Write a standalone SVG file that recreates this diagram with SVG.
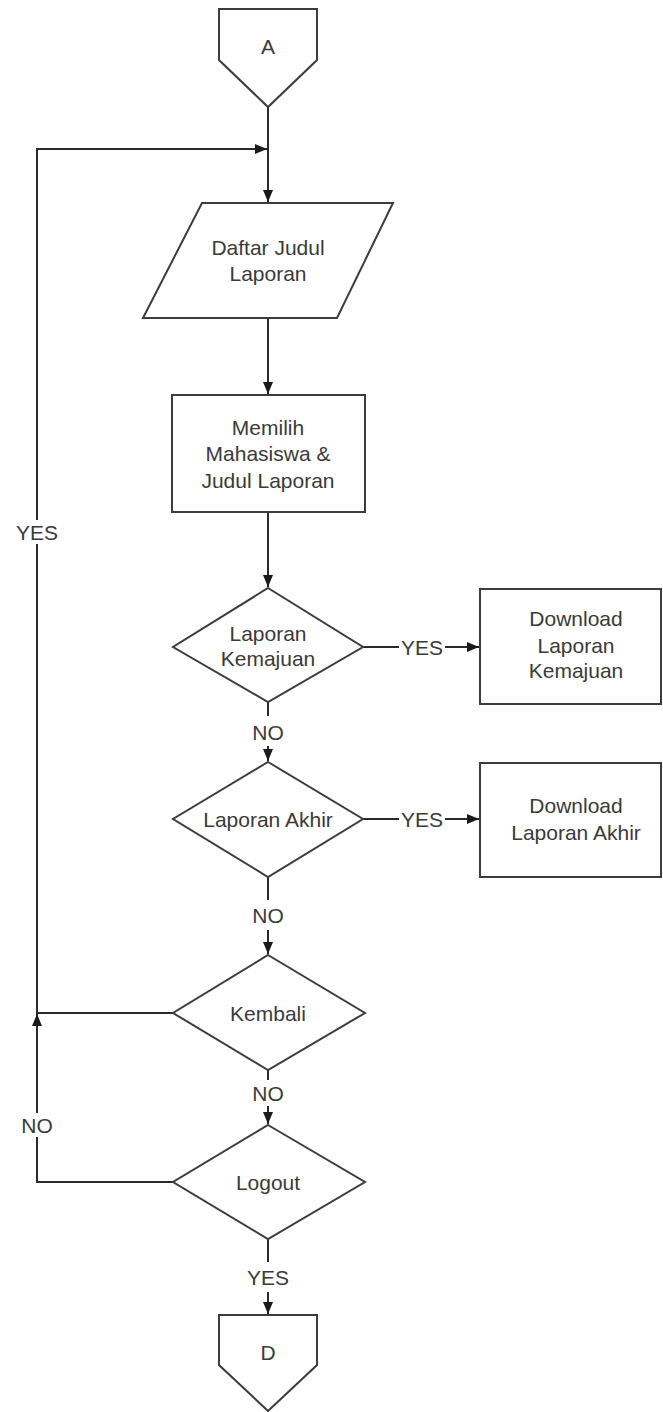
<svg xmlns="http://www.w3.org/2000/svg" width="663" height="1412" viewBox="0 0 663 1412">
<style>
.s{fill:#fff;stroke:#3c3c3c;stroke-width:2}
.c{fill:none;stroke:#2a2a2a;stroke-width:2}
.t{font-family:"Liberation Sans",Arial,sans-serif;font-size:21px;fill:#3a3a3a;text-anchor:middle}
.bg{fill:#fff}
</style>
<defs>
<marker id="ah" viewBox="0 0 12 10" refX="12" refY="5" markerWidth="12" markerHeight="10" markerUnits="userSpaceOnUse" orient="auto">
<path d="M0,0 L12,5 L0,10 Z" fill="#1a1a1a"/>
</marker>
</defs>
<rect width="663" height="1412" fill="#fff"/>
<g id="connectors">
<path class="c" d="M268,107 V202" marker-end="url(#ah)"/>
<path class="c" d="M173,1013 H37 V149 H267" marker-end="url(#ah)"/>
<path class="c" d="M173,1182 H37 V1014" marker-end="url(#ah)"/>
<path class="c" d="M268,318 V394" marker-end="url(#ah)"/>
<path class="c" d="M268,512 V587" marker-end="url(#ah)"/>
<path class="c" d="M363,647 H479" marker-end="url(#ah)"/>
<path class="c" d="M268,702 V761" marker-end="url(#ah)"/>
<path class="c" d="M363,819 H479" marker-end="url(#ah)"/>
<path class="c" d="M268,877 V954" marker-end="url(#ah)"/>
<path class="c" d="M268,1070 V1124" marker-end="url(#ah)"/>
<path class="c" d="M268,1239 V1314" marker-end="url(#ah)"/>
<rect class="bg" x="15" y="520" width="44" height="24"/>
<text class="t" x="37" y="540">YES</text>
<rect class="bg" x="18" y="1113" width="38" height="24"/>
<text class="t" x="37" y="1133">NO</text>
<rect class="bg" x="399" y="637" width="46" height="20"/>
<text class="t" x="422" y="655">YES</text>
<rect class="bg" x="399" y="809" width="46" height="20"/>
<text class="t" x="422" y="827">YES</text>
<rect class="bg" x="249" y="716" width="38" height="30"/>
<text class="t" x="268" y="740">NO</text>
<rect class="bg" x="249" y="900" width="38" height="30"/>
<text class="t" x="268" y="923">NO</text>
<rect class="bg" x="249" y="1080" width="38" height="26"/>
<text class="t" x="268" y="1101">NO</text>
<rect class="bg" x="245" y="1262" width="46" height="30"/>
<text class="t" x="268" y="1285">YES</text>
</g>
<g id="nodeA">
<path class="s" d="M219,9 H317 V60 L268,107 L219,60 Z"/>
<text class="t" x="268" y="54">A</text>
</g>
<g id="daftar">
<path class="s" d="M202,203 H393 L337,318 H143 Z"/>
<text class="t" x="268" y="255">Daftar Judul</text>
<text class="t" x="268" y="281">Laporan</text>
</g>
<g id="memilih">
<rect class="s" x="172" y="395" width="193" height="117"/>
<text class="t" x="268" y="435">Memilih</text>
<text class="t" x="268" y="461">Mahasiswa &amp;</text>
<text class="t" x="268" y="488">Judul Laporan</text>
</g>
<g id="d1">
<path class="s" d="M268,588 L363,647 L268,702 L173,647 Z"/>
<text class="t" x="268" y="641">Laporan</text>
<text class="t" x="268" y="666">Kemajuan</text>
</g>
<g id="box1">
<rect class="s" x="480" y="589" width="181" height="115"/>
<text class="t" x="576" y="626">Download</text>
<text class="t" x="576" y="653">Laporan</text>
<text class="t" x="576" y="678">Kemajuan</text>
</g>
<g id="d2">
<path class="s" d="M268,762 L363,819 L268,877 L173,819 Z"/>
<text class="t" x="268" y="827">Laporan Akhir</text>
</g>
<g id="box2">
<rect class="s" x="480" y="763" width="181" height="114"/>
<text class="t" x="576" y="813">Download</text>
<text class="t" x="576" y="840">Laporan Akhir</text>
</g>
<g id="d3">
<path class="s" d="M268,955 L365,1013 L268,1070 L173,1013 Z"/>
<text class="t" x="268" y="1021">Kembali</text>
</g>
<g id="d4">
<path class="s" d="M268,1125 L365,1182 L268,1239 L173,1182 Z"/>
<text class="t" x="268" y="1190">Logout</text>
</g>
<g id="nodeD">
<path class="s" d="M219,1315 H317 V1365 L268,1411 L219,1365 Z"/>
<text class="t" x="268" y="1360">D</text>
</g>
</svg>
